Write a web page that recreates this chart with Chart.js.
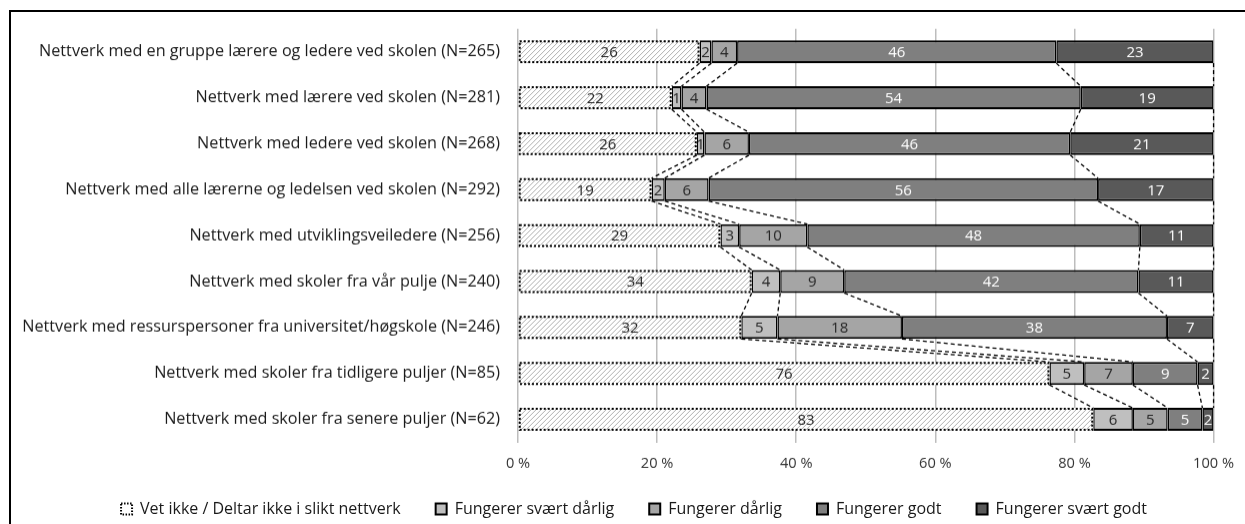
<!DOCTYPE html>
<html>
<head>
<meta charset="utf-8">
<script src="https://cdn.jsdelivr.net/npm/chart.js@4.4.1/dist/chart.umd.min.js"></script>
<style>
html, body { margin: 0; padding: 0; background: #fff; overflow: hidden; }
#frame { position: absolute; left: 9px; top: 10px; width: 1260px; height: 530px; border-left: 2px solid #000; border-top: 2px solid #000; pointer-events: none; z-index: 2; }
#wrap { position: absolute; left: 11px; top: 9px; width: 1236px; height: 525.5px; }
</style>
</head>
<body>
<div id="wrap"><canvas id="chart"></canvas></div>
<div id="frame"></div>
<script>
const categories = [
    'Nettverk med en gruppe lærere og ledere ved skolen (N=265)',
    'Nettverk med lærere ved skolen (N=281)',
    'Nettverk med ledere ved skolen (N=268)',
    'Nettverk med alle lærerne og ledelsen ved skolen (N=292)',
    'Nettverk med utviklingsveiledere (N=256)',
    'Nettverk med skoler fra vår pulje (N=240)',
    'Nettverk med ressurspersoner fra universitet/høgskole (N=246)',
    'Nettverk med skoler fra tidligere puljer (N=85)',
    'Nettverk med skoler fra senere puljer (N=62)'
];
const seriesNames = ['Vet ikke / Deltar ikke i slikt nettverk', 'Fungerer svært dårlig', 'Fungerer dårlig', 'Fungerer godt', 'Fungerer svært godt'];
const vetIkke      = [26.1, 22.1, 25.7, 19.2, 29.1, 33.6, 32.1, 76.4, 82.7];
const svaertDarlig = [1.7, 1.4, 1.1, 1.9, 2.7, 4.1, 5.2, 5.0, 5.7];
const darlig       = [3.7, 3.6, 6.4, 6.3, 9.8, 9.2, 17.9, 7.0, 5.0];
const godt         = [45.9, 53.8, 46.2, 56.0, 47.8, 42.3, 38.1, 9.3, 5.0];
const svaertGodt   = [22.6, 19.1, 20.6, 16.6, 10.6, 10.8, 6.7, 2.3, 1.6];
const xTicks = [0, 20, 40, 60, 80, 100];

const fills = ['#ffffff', '#bfbfbf', '#a5a5a5', '#7f7f7f', '#595959'];
const labelColors = ['#262626', '#262626', '#262626', '#ffffff', '#ffffff'];
const FONT = "'Open Sans'";

// diagonal hatch for the "vet ikke" bars
function makeHatch() {
    const c = document.createElement('canvas');
    c.width = 5; c.height = 5;
    const g = c.getContext('2d');
    g.fillStyle = '#fff';
    g.fillRect(0, 0, 5, 5);
    g.strokeStyle = '#a8a8a8';
    g.lineWidth = 0.9;
    g.beginPath();
    g.moveTo(-1, 6); g.lineTo(6, -1);
    g.moveTo(-1, 1); g.lineTo(1, -1);
    g.moveTo(4, 6); g.lineTo(6, 4);
    g.stroke();
    return g.createPattern(c, 'repeat');
}
const hatch = makeHatch();

const values = [vetIkke, svaertDarlig, darlig, godt, svaertGodt];
const datasets = values.map((vals, i) => ({
    label: seriesNames[i],
    data: vals,
    backgroundColor: i === 0 ? hatch : fills[i],
    borderColor: '#000',
    borderWidth: i === 0 ? 0 : { top: 2, bottom: 2, left: 1.5, right: 1.5 },
    borderSkipped: false,
    categoryPercentage: 1,
    barPercentage: 0.5
}));

// dotted outline for first series, series lines between bars, value labels
const extras = {
    id: 'extras',
    afterLayout(chart) {
        // legend sits a bit right of centre and closer to the axis in the original
        const lg = chart.legend;
        lg.left += 18; lg.right += 18;
        lg.top -= 8.5; lg.bottom -= 8.5;
    },
    afterDatasetsDraw(chart) {
        const ctx = chart.ctx;
        ctx.save();
        const m0 = chart.getDatasetMeta(0);
        ctx.strokeStyle = '#000';
        ctx.lineWidth = 2;
        ctx.setLineDash([2, 2]);
        m0.data.forEach(el => {
            const h = el.height;
            ctx.strokeRect(el.base + 1, el.y - h / 2 + 1, el.x - el.base - 2, h - 2);
        });
        ctx.lineWidth = 1.3;
        ctx.setLineDash([4, 3]);
        chart.data.datasets.forEach((ds, d) => {
            const meta = chart.getDatasetMeta(d);
            for (let r = 0; r < meta.data.length - 1; r++) {
                const a = meta.data[r], b = meta.data[r + 1];
                ctx.beginPath();
                ctx.moveTo(a.x, a.y + a.height / 2);
                ctx.lineTo(b.x, b.y - b.height / 2);
                ctx.stroke();
            }
        });
        ctx.setLineDash([]);
        ctx.font = "15px " + FONT;
        ctx.textAlign = 'center';
        ctx.textBaseline = 'middle';
        chart.data.datasets.forEach((ds, d) => {
            const meta = chart.getDatasetMeta(d);
            ctx.fillStyle = labelColors[d];
            meta.data.forEach((el, r) => {
                ctx.fillText(String(Math.round(ds.data[r])), (el.x + el.base) / 2, el.y + 1);
            });
        });
        ctx.restore();
    }
};

new Chart(document.getElementById('chart'), {
    type: 'bar',
    data: { labels: categories, datasets },
    plugins: [extras],
    options: {
        indexAxis: 'y',
        responsive: true,
        maintainAspectRatio: false,
        animation: false,
        layout: { padding: { top: 0, right: 32, left: 6, bottom: 0 } },
        scales: {
            x: {
                stacked: true,
                min: 0,
                max: 100,
                afterBuildTicks: scale => { scale.ticks = xTicks.map(v => ({ value: v })); },
                afterFit: scale => { scale.height = 32; },
                grid: { color: '#bdbdbd', lineWidth: 1.5, drawTicks: false },
                border: { display: false },
                ticks: {
                    padding: 13,
                    color: '#333',
                    font: { family: FONT, size: 14.6 },
                    callback: v => v + ' %'
                }
            },
            y: {
                stacked: true,
                afterFit: scale => { scale.width = 501; },
                grid: { display: false },
                border: { display: false },
                ticks: {
                    padding: 10,
                    color: '#1a1a1a',
                    font: { family: FONT, size: 16.2 }
                }
            }
        },
        plugins: {
            tooltip: { enabled: false },
            legend: {
                position: 'bottom',
                labels: {
                    boxWidth: 11,
                    boxHeight: 11,
                    padding: 35,
                    color: '#1a1a1a',
                    font: { family: FONT, size: 16 },
                    generateLabels: chart => chart.data.datasets.map((ds, i) => ({
                        text: ds.label,
                        fillStyle: i === 0 ? '#fff' : fills[i],
                        strokeStyle: '#000',
                        lineWidth: 2,
                        lineDash: i === 0 ? [1.5, 1.5] : [],
                        fontColor: '#1a1a1a',
                        datasetIndex: i
                    }))
                }
            }
        }
    }
});
</script>
</body>
</html>
